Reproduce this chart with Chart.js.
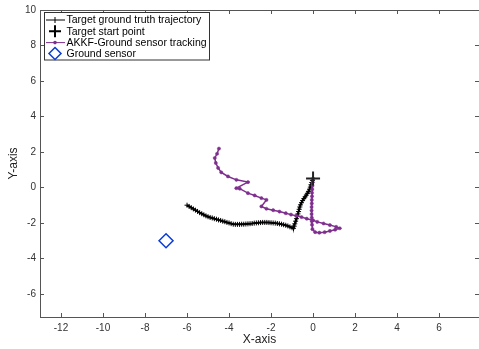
<!DOCTYPE html>
<html>
<head>
<meta charset="utf-8">
<title>Trajectory</title>
<script src="https://cdn.jsdelivr.net/npm/chart.js"></script>
<style>
  html, body { margin: 0; padding: 0; background: #fff; }
  #wrap { width: 479px; height: 349px; }
</style>
</head>
<body>
<div id="wrap"><canvas id="graph"></canvas></div>
<script>
// ground truth trajectory (from start point to the far left end)
const truthX = [0, -0.03, -0.06, -0.1, -0.13, -0.17, -0.22, -0.27, -0.32, -0.38, -0.44, -0.5, -0.55, -0.6,
  -0.63, -0.66, -0.69, -0.72, -0.75, -0.79, -0.83, -0.87, -0.9, -0.93,
  -1.0, -1.1, -1.2, -1.3, -1.4, -1.5, -1.6, -1.7, -1.8, -1.9, -2.0, -2.1, -2.2, -2.3, -2.4, -2.5,
  -2.6, -2.7, -2.8, -2.9, -3.0, -3.1, -3.2, -3.3, -3.4, -3.5, -3.6, -3.7, -3.8, -3.9,
  -4.0, -4.1, -4.2, -4.3, -4.4, -4.5, -4.6, -4.7, -4.8, -4.9, -5.0, -5.1, -5.2, -5.3, -5.4, -5.5,
  -5.6, -5.7, -5.8, -5.9, -6.0];
const truthY = [0.5, 0.4, 0.28, 0.15, 0.02, -0.1, -0.22, -0.33, -0.43, -0.53, -0.63, -0.74, -0.86, -0.98,
  -1.1, -1.23, -1.36, -1.49, -1.62, -1.76, -1.9, -2.05, -2.18, -2.3,
  -2.27, -2.22, -2.17, -2.13, -2.1, -2.07, -2.05, -2.03, -2.01, -2.0, -1.99, -1.98, -1.97, -1.97, -1.97, -1.98,
  -1.99, -2.0, -2.01, -2.03, -2.04, -2.05, -2.06, -2.07, -2.07, -2.08, -2.08, -2.08, -2.07, -2.04,
  -2.0, -1.97, -1.93, -1.9, -1.86, -1.83, -1.79, -1.76, -1.72, -1.69, -1.65, -1.6, -1.54, -1.48, -1.42, -1.35,
  -1.28, -1.21, -1.14, -1.07, -1.0];

// AKKF tracking
const trackX = [0, -0.02, -0.03, -0.04, -0.05, -0.05, -0.06, -0.06, -0.07, -0.07, -0.07, -0.06, -0.06, -0.05,
  -0.03, 0.1, 0.3, 0.55, 0.8, 1.05, 1.27, 1.1, 0.8, 0.5, 0.2, 0.0, -0.3, -0.55, -0.8, -1.05, -1.3,
  -1.6, -1.9, -2.22, -2.46, -2.22, -2.46, -2.78, -3.1, -3.49, -3.65, -3.1, -3.65, -4.05, -4.37, -4.52,
  -4.63, -4.68, -4.57, -4.48];
const trackY = [0.5, 0.3, 0.1, -0.1, -0.3, -0.5, -0.7, -0.9, -1.1, -1.3, -1.5, -1.7, -1.9, -2.1,
  -2.35, -2.52, -2.55, -2.52, -2.45, -2.38, -2.3, -2.22, -2.12, -2.03, -1.94, -1.85, -1.76, -1.67, -1.6,
  -1.53, -1.45, -1.36, -1.28, -1.2, -1.07, -0.7, -0.6, -0.45, -0.32, -0.07, -0.04, 0.3, 0.43, 0.62,
  0.85, 1.1, 1.38, 1.66, 1.9, 2.19];

const startPoint = [{ x: 0, y: 0.5 }];
const sensorPoint = [{ x: -7, y: -3 }];

const xTicks = [-12, -10, -8, -6, -4, -2, 0, 2, 4, 6];
const yTicks = [-6, -4, -2, 0, 2, 4, 6, 8, 10];

const legendItems = ['Target ground truth trajectory', 'Target start point', 'AKKF-Ground sensor tracking', 'Ground sensor'];

const FONT = '"Liberation Sans", Arial, sans-serif';
const PURPLE = '#7e2f8e';

// top edge + inward ticks + legend (right edge of the box falls outside the picture)
const matlabBox = {
  id: 'matlabBox',
  afterDraw(chart) {
    const ctx = chart.ctx;
    const a = chart.chartArea;
    const xs = chart.scales.x, ys = chart.scales.y;
    ctx.save();
    ctx.strokeStyle = '#555';
    ctx.lineWidth = 1;
    ctx.beginPath();
    ctx.moveTo(a.left, a.top + 0.5);
    ctx.lineTo(a.right, a.top + 0.5);
    xTicks.forEach(v => {
      const px = Math.round(xs.getPixelForValue(v)) + 0.5;
      ctx.moveTo(px, a.bottom); ctx.lineTo(px, a.bottom - 4);
      ctx.moveTo(px, a.top); ctx.lineTo(px, a.top + 4);
    });
    yTicks.forEach(v => {
      const py = Math.round(ys.getPixelForValue(v)) + 0.5;
      ctx.moveTo(a.left, py); ctx.lineTo(a.left + 4, py);
      ctx.moveTo(a.right, py); ctx.lineTo(a.right - 4, py);
    });
    ctx.stroke();

    // legend
    const bx = 44.5, by = 12.5, bw = 165, bh = 47.5;
    ctx.fillStyle = '#fff';
    ctx.fillRect(bx, by, bw, bh);
    ctx.strokeStyle = '#333';
    ctx.strokeRect(bx, by, bw, bh);
    const rows = [20, 31.3, 42.6, 53.5];
    const sx = 55;
    ctx.font = '10.5px ' + FONT;
    ctx.textBaseline = 'middle';
    ctx.fillStyle = '#000';
    legendItems.forEach((t, i) => ctx.fillText(t, 66.5, rows[i] + 0.5));
    // row 1
    ctx.strokeStyle = '#000';
    ctx.lineWidth = 1;
    ctx.beginPath();
    ctx.moveTo(46, rows[0]); ctx.lineTo(65, rows[0]);
    ctx.moveTo(sx, rows[0] - 3); ctx.lineTo(sx, rows[0] + 3);
    ctx.stroke();
    // row 2
    ctx.lineWidth = 2;
    ctx.beginPath();
    ctx.moveTo(sx - 6, rows[1]); ctx.lineTo(sx + 6, rows[1]);
    ctx.moveTo(sx, rows[1] - 6); ctx.lineTo(sx, rows[1] + 6);
    ctx.stroke();
    // row 3
    ctx.strokeStyle = PURPLE;
    ctx.lineWidth = 1;
    ctx.beginPath();
    ctx.moveTo(46, rows[2]); ctx.lineTo(65, rows[2]);
    ctx.stroke();
    ctx.fillStyle = PURPLE;
    ctx.beginPath();
    ctx.arc(sx, rows[2], 1.8, 0, Math.PI * 2);
    ctx.fill();
    // row 4
    ctx.strokeStyle = '#0a3cd6';
    ctx.lineWidth = 1.5;
    ctx.beginPath();
    ctx.moveTo(sx, rows[3] - 6); ctx.lineTo(sx + 6, rows[3]);
    ctx.lineTo(sx, rows[3] + 6); ctx.lineTo(sx - 6, rows[3]);
    ctx.closePath();
    ctx.stroke();
    ctx.restore();
  }
};

new Chart(document.getElementById('graph'), {
  type: 'scatter',
  data: {
    datasets: [
      {
        label: legendItems[0],
        data: truthX.map((x, i) => ({ x: x, y: truthY[i] })),
        showLine: true,
        borderColor: '#000',
        borderWidth: 2,
        pointStyle: 'cross',
        pointRadius: 2.5,
        pointBorderWidth: 1,
        pointBorderColor: '#000',
        order: 4
      },
      {
        label: legendItems[2],
        data: trackX.map((x, i) => ({ x: x, y: trackY[i] })),
        showLine: true,
        borderColor: PURPLE,
        borderWidth: 1.5,
        pointStyle: 'circle',
        pointRadius: 1.6,
        pointBackgroundColor: PURPLE,
        pointBorderColor: PURPLE,
        pointBorderWidth: 0.5,
        order: 3
      },
      {
        label: legendItems[1],
        data: startPoint,
        pointStyle: 'cross',
        pointRadius: 7,
        pointBorderWidth: 2,
        pointBorderColor: '#222',
        order: 1
      },
      {
        label: legendItems[3],
        data: sensorPoint,
        pointStyle: 'rectRot',
        pointRadius: 7,
        pointBorderWidth: 1.5,
        pointBorderColor: '#0a3cd6',
        pointBackgroundColor: 'rgba(0,0,0,0)',
        order: 1
      }
    ]
  },
  options: {
    responsive: true,
    maintainAspectRatio: false,
    animation: false,
    events: [],
    layout: { autoPadding: false, padding: { top: 10, right: 0, left: 0, bottom: 0 } },
    plugins: { legend: { display: false }, tooltip: { enabled: false } },
    scales: {
      x: {
        type: 'linear',
        min: -13,
        max: 7.9,
        afterBuildTicks: s => { s.ticks = xTicks.map(v => ({ value: v })); },
        afterFit: s => { s.height = 32; s.paddingLeft = 0; s.paddingRight = 0; },
        grid: { display: false, drawTicks: false },
        border: { display: true, color: '#555', width: 1 },
        ticks: { padding: 5, color: '#333', font: { family: FONT, size: 10 }, maxRotation: 0 },
        title: { display: true, text: 'X-axis', color: '#222', font: { family: FONT, size: 12 }, padding: { top: 0, bottom: 2 } }
      },
      y: {
        type: 'linear',
        min: -7.3,
        max: 10,
        afterBuildTicks: s => { s.ticks = yTicks.map(v => ({ value: v })); },
        afterFit: s => { s.width = 40; s.paddingTop = 0; s.paddingBottom = 0; },
        grid: { display: false, drawTicks: false },
        border: { display: true, color: '#555', width: 1 },
        ticks: { padding: 4, color: '#333', font: { family: FONT, size: 10 } },
        title: { display: true, text: 'Y-axis', color: '#222', font: { family: FONT, size: 12 }, padding: { top: 6, bottom: 0 } }
      }
    }
  },
  plugins: [matlabBox]
});
</script>
</body>
</html>
